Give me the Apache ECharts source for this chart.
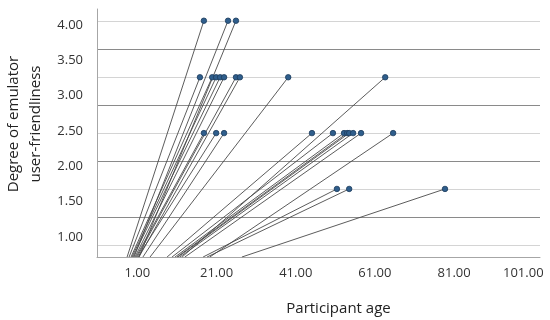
<!DOCTYPE html>
<html><head><meta charset="utf-8">
<script src="https://cdn.jsdelivr.net/npm/echarts@6/dist/echarts.min.js"></script>
<style>html,body{margin:0;background:#fff}#c{width:550px;height:320px}</style></head>
<body><div id="c"></div>
<script>
// participant ages (x) and friendliness scores (y)
const ages = [17.8, 23.9, 25.9,
  16.8, 19.9, 20.9, 21.9, 22.9, 25.9, 26.9, 39.1, 63.6,
  17.8, 20.9, 22.9, 45.1, 50.4, 53.2, 54.0, 54.5, 55.5, 57.5, 65.6,
  51.4, 54.5, 78.7];
const scores = [4.06, 4.06, 4.06,
  3.26, 3.26, 3.26, 3.26, 3.26, 3.26, 3.26, 3.26, 3.26,
  2.47, 2.47, 2.47, 2.47, 2.47, 2.47, 2.47, 2.47, 2.47, 2.47, 2.47,
  1.68, 1.68, 1.68];
// age at which each connector line leaves the bottom of the plot
const lineBaseAges = [-1.6, 0.15, 1.4,
  -1.1, -0.6, -0.35, -0.1, 0.4, 0.9, 1.4, 4.2, 12.3,
  0.65, 1.15, 2.4, 8.5, 9.75, 10.5, 11.0, 11.25, 11.75, 13.0, 19.3,
  17.6, 18.6, 27.4];
const xTickValues = [1, 21, 41, 61, 81, 101];
const yTickValues = [1, 1.5, 2, 2.5, 3, 3.5, 4];
const gridLineValues = [0, 0.5, 1, 1.5, 2, 2.5, 3, 3.5, 4];

const X_MIN = -9.2, X_MAX = 102.7, Y_MIN = 0.717, Y_MAX = 4.226;

const points = ages.map((a, i) => [a, scores[i]]);
const segs = ages.map((a, i) => ({coords: [[lineBaseAges[i], Y_MIN], [a, scores[i]]]}));

const font = 'Open Sans';
const lastX = xTickValues[xTickValues.length - 1];
const chart = echarts.init(document.getElementById('c'));
chart.setOption({
  animation: false,
  backgroundColor: '#fff',
  grid: {left: 97, right: 10, top: 9, bottom: 63, containLabel: false, outerBoundsMode: 'none'},
  xAxis: [{
    type: 'value', min: X_MIN, max: X_MAX,
    name: 'Participant age', nameLocation: 'middle', nameGap: 44,
    nameTextStyle: {fontFamily: font, fontSize: 15, color: '#222', padding: [0, 0, 0, 40]},
    axisLine: {show: true, onZero: false, lineStyle: {color: '#a6a6a6'}},
    axisTick: {show: false},
    splitLine: {show: false},
    axisLabel: {customValues: xTickValues,
      formatter: v => v === lastX ? '{r|' + v.toFixed(2) + '}' : v.toFixed(2),
      rich: {r: {fontFamily: font, fontSize: 13, color: '#333', padding: [0, 20, 0, 0]}},
      fontFamily: font, fontSize: 13, color: '#333', margin: 10}
  }],
  yAxis: [{
    type: 'value', min: Y_MIN, max: Y_MAX,
    name: 'Degree of emulator\nuser-friendliness', nameLocation: 'middle', nameGap: 49,
    nameTextStyle: {fontFamily: font, fontSize: 15, color: '#222', lineHeight: 22, padding: [0, 0, 0, 18]},
    axisLine: {show: true, onZero: false, lineStyle: {color: '#a6a6a6'}},
    axisTick: {show: false},
    splitLine: {show: false},
    axisLabel: {customValues: yTickValues, formatter: v => v.toFixed(2),
      fontFamily: font, fontSize: 13, color: '#333', margin: 14}
  }, {
    type: 'value', min: -0.214, max: 4.214, position: 'left',
    axisLine: {show: false, onZero: false},
    axisLabel: {show: false},
    axisTick: {show: false, customValues: gridLineValues},
    splitLine: {show: true, lineStyle: {color: ['#d4d4d4', '#8a8a8a'], width: 1}}
  }],
  series: [{
    type: 'lines', coordinateSystem: 'cartesian2d', xAxisIndex: 0, yAxisIndex: 0,
    data: segs, z: 3,
    lineStyle: {color: '#4a4a4a', width: 0.9, opacity: 1}
  }, {
    type: 'scatter', xAxisIndex: 0, yAxisIndex: 0, data: points, z: 4,
    symbolSize: 5.5,
    itemStyle: {color: '#2f5e8c', borderColor: '#1c3b5c', borderWidth: 0.8, opacity: 1}
  }]
});
</script></body></html>
